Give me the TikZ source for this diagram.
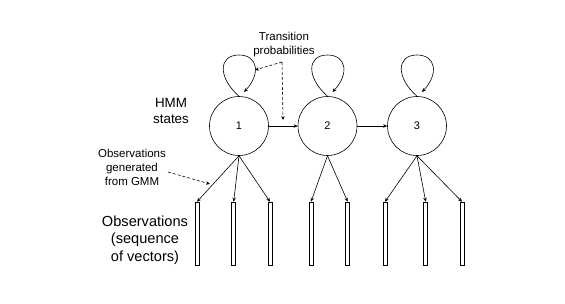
\documentclass[tikz,border=0pt]{standalone}
\usepackage{fontspec}
\setmainfont{Liberation Sans}
\usetikzlibrary{arrows.meta}
\tikzset{
  state/.style={draw,circle,minimum size=59pt,inner sep=0pt,font=\fontsize{11}{13}\selectfont},
  obsbox/.style={draw,rectangle,minimum width=4pt,minimum height=63pt,inner sep=0pt},
  tip/.style={-{Stealth[length=4pt,width=3.5pt]}},
  hint/.style={tip,dash pattern=on 3pt off 2pt},
  small/.style={align=center,font=\fontsize{11.5}{14}\selectfont},
}
\begin{document}
\begin{tikzpicture}[x=1pt,y=-1pt,line width=0.6pt]
\useasboundingbox (0,0) rectangle (565,303);
\node[state] (s1) at (239,126) {1};
\node[state] (s2) at (327.5,126) {2};
\node[state] (s3) at (417,126) {3};
\draw[tip] (s1) -- (s2);
\draw[tip] (s2) -- (s3);
% self loops
\foreach \s/\x in {s1/239, s2/327.5, s3/417}
  \draw[tip] (\s.north) .. controls ({\x-21},78) and ({\x-21},55) .. (\x,55)
    .. controls ({\x+19},55) and ({\x+22},74) .. ({\x+5},92);
% observation vectors
\foreach \s/\n/\x in {s1/a/197, s1/b/233.7, s1/c/270, s2/d/311, s2/e/347.7, s3/f/385, s3/g/425.7, s3/h/462} {
  \node[obsbox] (o\n) at (\x,233.5) {};
  \draw[tip] (\s.south) -- (o\n.north);
}
\node[small] (tp) at (284,45) {Transition\\probabilities};
\coordinate (tpa) at (282,62);
\coordinate (tpl) at (255,70);
\coordinate (tpt) at (283,120);
\draw[hint] (tpa) -- (tpl);
\draw[hint] (tpa) -- (tpt);
\node[align=center,font=\fontsize{13.4}{16}\selectfont] (hmm) at (171,111) {HMM\\states};
\node[small] (gen) at (132,167) {Observations\\generated\\from GMM};
\coordinate (gena) at (168,172);
\coordinate (genb) at (210,184);
\draw[hint] (gena) -- (genb);
\node[align=center,font=\fontsize{14.6}{17.5}\selectfont] (obs) at (145,240) {Observations\\(sequence\\of vectors)};
\end{tikzpicture}
\end{document}
